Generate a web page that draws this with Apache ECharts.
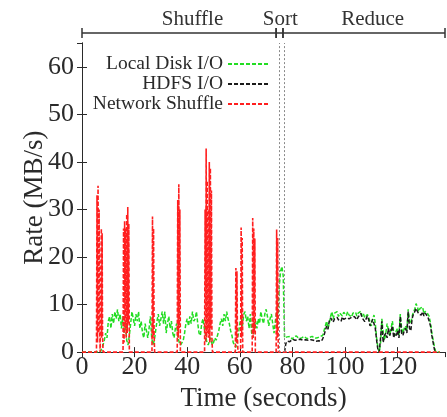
<!DOCTYPE html>
<html>
<head>
<meta charset="utf-8">
<script src="https://cdn.jsdelivr.net/npm/echarts@6/dist/echarts.min.js"></script>
<style>
  html, body { margin: 0; padding: 0; background: #fff; }
  #chart { width: 447px; height: 417px; }
</style>
</head>
<body>
<div id="chart"></div>
<script>
// Axis ranges and ticks
const timeMax = 138;
const timeTicks = [0, 20, 40, 60, 80, 100, 120];
const rateMax = 65;
const rateTicks = [0, 10, 20, 30, 40, 50, 60];

// Job phases drawn as a bracket above the plot
const phaseNames = ['Shuffle', 'Sort', 'Reduce'];
const phaseStart = [0, 73.8, 76.4];
const phaseEnd = [73.8, 76.4, 138];
const phaseLabelAt = [42, 75.4, 110.5];
// Sort phase boundaries (dotted verticals)
const sortBounds = [74.9, 76.8];

// Disk and HDFS counters are sampled every half second
const sampleStep = 0.5;

// Local disk I/O (MB/s), from t = 0
const diskRate = [
  0, 0, 0, 0, 0, 0, 0, 0, 0, 0,
  0, 0, 0, 0, 0, 0, 1.5, 2.5, 4, 3,
  6.5, 7.5, 5, 8, 6, 8.5, 7, 9, 6.5, 8,
  5, 7.5, 4, 6, 2.5, 1.5, 3.5, 6, 8.5, 7,
  5.5, 8, 6.5, 8.5, 5, 6.5, 4, 3, 6, 4.5,
  3, 5, 7.5, 3, 1.5, 2.5, 4.5, 6.5, 8, 5.5,
  7, 8.5, 6, 8.5, 4, 6, 7.5, 5, 6.5, 4,
  3, 5, 6, 3, 2, 1.5, 2, 2.5, 4, 6,
  7, 5.5, 7.5, 6, 8.5, 6.5, 7, 8.5, 6, 4,
  3.5, 6, 7, 5, 3.5, 2, 1.5, 2.5, 3, 1.5,
  2, 3, 2.5, 3.5, 4.5, 6, 7, 5.5, 8, 6.5,
  8.5, 7, 6, 4.5, 3.5, 2, 1.5, 1, 2.5, 4,
  6, 7.5, 5.5, 8, 8.5, 6.5, 7.5, 5, 8, 4,
  3, 4.5, 6.5, 5, 7, 6, 8.5, 7, 6, 8,
  9, 7.5, 5.5, 7, 8, 6, 4, 6.5, 8.5, 7,
  14, 17, 18, 16, 3, 2.6, 3.2, 2.8, 3.3, 3,
  2.7, 3.2, 2.9, 3.4, 3, 2.8, 3.2, 3, 2.7, 3.3,
  3, 2.8, 3.2, 3.1, 2.7, 3.3, 3, 2.9, 3.2, 3,
  2.8, 3.3, 3, 3.5, 4.5, 5.5, 6.5, 5, 6, 7.5,
  8.5, 7, 8.2, 7.8, 8.5, 7.5, 8.2, 8, 7.6, 8.4,
  8, 7.7, 8.5, 7.8, 8.1, 7.4, 8.2, 7.9, 8.4, 7.6,
  8.2, 7.8, 8.6, 7.5, 8, 7.2, 6.8, 7.9, 7.4, 6.2,
  5.5, 7, 7.8, 6, 3, 1, 0, 2, 7, 4,
  2.5, 4, 6, 4.5, 3.5, 5, 6.5, 4, 3.5, 4.5,
  5, 3.5, 8, 5, 4, 5, 5.5, 4.5, 9, 6.5,
  6, 7.5, 8.5, 9, 10.2, 9.5, 8.5, 9.2, 8.8, 9.5,
  8, 8.6, 8.8, 8, 7.5, 6, 4, 2.5, 1, 0,
  0, 0, 0
];

// HDFS I/O (MB/s), from t = 77
const hdfsStart = 77;
const hdfsRate = [
  0, 1.8, 2.3, 2.6, 2.2, 2.5, 2.7, 2.3, 2.5, 2.2,
  2.6, 2.4, 2.7, 2.3, 2.5, 2.2, 2.6, 2.4, 2.5, 2.2,
  2.6, 2.3, 2.5, 2.7, 2.3, 2.5, 2.4, 2.6, 2.3, 2.8,
  3.5, 4.5, 5.5, 4.8, 6.5, 7.2, 6.8, 6.3, 7, 6.6,
  7.3, 6.8, 7.1, 6.5, 7.4, 6.9, 6.6, 7.2, 7.6, 7,
  6.8, 7.3, 6.9, 7.5, 7.1, 6.8, 7.4, 7.8, 8.1, 7.2,
  6.9, 6.4, 7, 7.6, 6.8, 5.5, 6.2, 6.9, 6, 5,
  2.5, 0.5, 0, 3, 6.5, 2, 3.5, 4, 3, 5,
  3.5, 4.5, 5.5, 3, 4, 3.5, 4.5, 3, 7.5, 4,
  3.5, 4.5, 5, 4, 8.5, 5, 4.5, 7, 8, 8.5,
  9.2, 8.6, 8, 8.4, 7.8, 8.5, 7.6, 8.2, 8.5, 7.4,
  7, 5.5, 3.5, 2, 0.5, 0
];

// Network shuffle bursts (time in s, rate in MB/s)
const netTime = [
  0, 5.5, 5.7, 5.9, 6.1, 6.3, 6.5, 6.7, 6.9, 7.2, 7.35, 7.5, 7.65, 7.8, 8.0,
  15.6, 15.8, 16.0, 16.2, 16.4, 16.6, 16.8, 17.0, 17.2, 17.4, 17.6, 17.8, 18.0,
  26.6, 26.8, 27.0, 27.2, 27.4, 27.6,
  36.2, 36.4, 36.6, 36.8, 37.0, 37.2, 37.4,
  46.6, 46.8, 47.0, 47.2, 47.4, 47.6, 47.8, 48.0, 48.2, 48.4, 48.6, 48.8, 49.0, 49.2, 49.4, 49.6,
  58.3, 58.5, 58.7, 58.9, 59.1, 59.3, 60.3, 60.5, 60.7, 60.9, 61.1,
  64.7, 64.9, 65.1, 65.3, 65.5, 65.7, 65.9,
  73.8, 74.0, 74.2, 74.4, 74.6, 136
];
const netRate = [
  0, 0, 33, 2, 35, 4, 30, 6, 0, 0, 26, 3, 25, 4, 0,
  0, 26, 2, 27.5, 5, 26, 3, 29, 4, 30.5, 6, 27, 0,
  0, 28.5, 3, 26, 4, 0,
  0, 32, 3, 35.3, 5, 30, 0,
  0, 30, 2, 42.8, 3, 36, 4, 30, 3, 40, 2, 38.7, 5, 34, 3, 0,
  0, 17.7, 2, 17, 3, 0, 0, 26.2, 3, 24, 0,
  0, 28.2, 3, 26, 4, 23.9, 0,
  0, 25.8, 3, 24, 0, 0
];

const serif = '"Liberation Serif", "DejaVu Serif", serif';
const ink = '#2a2a2a';

const diskData = diskRate.map((v, i) => [i * sampleStep, v]);
const hdfsData = hdfsRate.map((v, i) => [hdfsStart + i * sampleStep, v]);
const netData = netTime.map((t, i) => [t, netRate[i]]);
const phaseData = phaseNames.map((n, i) => [phaseStart[i], phaseEnd[i], phaseLabelAt[i]]);

const frameAxis = {
  axisLine: { show: true, lineStyle: { color: ink, width: 1 } },
  axisTick: { show: true, inside: true, length: 5, lineStyle: { color: ink } },
  splitLine: { show: false }
};

const chart = echarts.init(document.getElementById('chart'), null, { renderer: 'canvas' });
chart.setOption({
  backgroundColor: '#fff',
  animation: false,
  grid: [
    { left: 82, right: 2, top: 43, bottom: 53 },
    { left: 82, right: 2, top: 28, height: 10 }
  ],
  legend: {
    orient: 'vertical',
    right: 173,
    top: 49,
    align: 'right',
    itemWidth: 40,
    itemHeight: 10,
    itemGap: 0,
    itemStyle: { opacity: 0 },
    textStyle: { fontFamily: serif, fontSize: 19.5, color: ink },
    data: ['Local Disk I/O', 'HDFS I/O', 'Network Shuffle']
  },
  xAxis: [
    Object.assign({
      type: 'value', gridIndex: 0, min: 0, max: timeMax, interval: 20,
      position: 'bottom',
      name: 'Time (seconds)', nameLocation: 'middle', nameGap: 30,
      nameTextStyle: { fontFamily: serif, fontSize: 27, color: ink },
      axisLabel: {
        fontFamily: serif, fontSize: 26, color: ink, margin: 2,
        showMaxLabel: false,
        formatter: v => timeTicks.includes(v) ? String(v) : ''
      }
    }, frameAxis),
    Object.assign({
      type: 'value', gridIndex: 0, min: 0, max: timeMax, interval: 20,
      position: 'top', axisLabel: { show: false }
    }, frameAxis),
    {
      type: 'value', gridIndex: 1, min: 0, max: timeMax, show: false
    }
  ],
  yAxis: [
    Object.assign({
      type: 'value', gridIndex: 0, min: 0, max: rateMax, interval: 10,
      position: 'left',
      name: 'Rate (MB/s)', nameLocation: 'middle', nameGap: 34, nameRotate: 90,
      nameMoveOverlap: false,
      nameTextStyle: { fontFamily: serif, fontSize: 27, color: ink },
      axisLabel: {
        fontFamily: serif, fontSize: 26, color: ink, margin: 8,
        showMaxLabel: false,
        formatter: v => rateTicks.includes(v) ? String(v) : ''
      }
    }, frameAxis),
    Object.assign({
      type: 'value', gridIndex: 0, min: 0, max: rateMax, interval: 10,
      position: 'right', axisLabel: { show: false }
    }, frameAxis),
    {
      type: 'value', gridIndex: 1, min: 0, max: 1, show: false
    }
  ],
  series: [
    {
      name: 'Local Disk I/O', type: 'line', xAxisIndex: 0, yAxisIndex: 0,
      data: diskData, symbol: 'none', color: '#22dd22',
      lineStyle: { color: '#22dd22', width: 1.5, type: [4, 2] },
      markLine: {
        silent: true, symbol: 'none', label: { show: false },
        lineStyle: { color: '#8a8a8a', type: [2, 2], width: 1 },
        data: sortBounds.map(t => ({ xAxis: t }))
      },
      z: 2
    },
    {
      name: 'HDFS I/O', type: 'line', xAxisIndex: 0, yAxisIndex: 0,
      data: hdfsData, symbol: 'none', color: '#1a1a1a',
      lineStyle: { color: '#1a1a1a', width: 1.5, type: [4, 2] },
      z: 3
    },
    {
      name: 'Network Shuffle', type: 'line', xAxisIndex: 0, yAxisIndex: 0,
      data: netData, symbol: 'none', color: '#ff1f1f',
      lineStyle: { color: '#ff1f1f', width: 1.6, type: [4, 2] },
      z: 4
    },
    {
      type: 'custom', xAxisIndex: 2, yAxisIndex: 2, clip: false, silent: true,
      data: phaseData,
      renderItem(params, api) {
        const s = api.coord([api.value(0), 0.5]);
        const e = api.coord([api.value(1), 0.5]);
        const lab = api.coord([api.value(2), 0.5]);
        const h = 5;
        const st = { stroke: '#333', lineWidth: 1.5 };
        return {
          type: 'group',
          children: [
            { type: 'line', shape: { x1: s[0], y1: s[1], x2: e[0], y2: e[1] }, style: st },
            { type: 'line', shape: { x1: s[0], y1: s[1] - h, x2: s[0], y2: s[1] + h }, style: st },
            { type: 'line', shape: { x1: e[0], y1: e[1] - h, x2: e[0], y2: e[1] + h }, style: st },
            {
              type: 'text',
              style: {
                text: phaseNames[params.dataIndex], x: lab[0], y: s[1] - 3,
                align: 'center', verticalAlign: 'bottom',
                font: '21px ' + serif, fill: '#333'
              }
            }
          ]
        };
      }
    }
  ]
});
</script>
</body>
</html>
